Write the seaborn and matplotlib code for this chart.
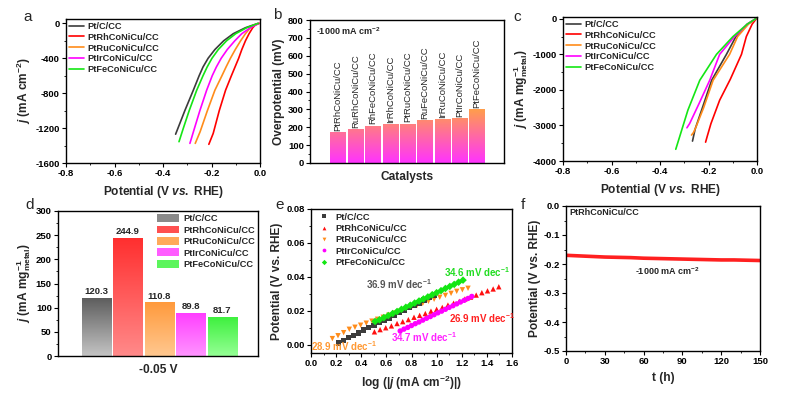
import numpy as np
import pandas as pd
import matplotlib
matplotlib.use("Agg")
import matplotlib.pyplot as plt
from matplotlib.colors import LinearSegmentedColormap
from matplotlib.patches import Patch
from matplotlib.ticker import MultipleLocator, FormatStrFormatter
import seaborn as sns

names = ["Pt/C/CC", "PtRhCoNiCu/CC", "PtRuCoNiCu/CC", "PtIrCoNiCu/CC", "PtFeCoNiCu/CC"]
line_colors = ["#3c3c3c", "#ff0000", "#ff8c1a", "#ff00ff", "#14e614"]

# (a) LSV, current per geometric area
a_ptc_v = [-0.008, -0.060, -0.110, -0.150, -0.186, -0.214, -0.235, -0.251, -0.275, -0.310, -0.348]
a_ptc_j = [0, -50, -118, -200, -300, -400, -500, -600, -766, -1000, -1270]
a_rh_v = [-0.003, -0.020, -0.030, -0.045, -0.060, -0.075, -0.088, -0.103, -0.118, -0.142, -0.168, -0.193, -0.211]
a_rh_j = [0, -20, -50, -118, -200, -300, -400, -500, -600, -766, -1000, -1261, -1386]
a_ru_v = [-0.004, -0.025, -0.040, -0.060, -0.080, -0.102, -0.122, -0.140, -0.157, -0.186, -0.217, -0.247, -0.267]
a_ru_j = [0, -20, -50, -118, -200, -300, -400, -500, -600, -766, -1000, -1242, -1375]
a_ir_v = [-0.005, -0.040, -0.075, -0.104, -0.135, -0.160, -0.180, -0.197, -0.220, -0.248, -0.270, -0.289]
a_ir_j = [0, -50, -118, -200, -300, -400, -500, -600, -766, -1000, -1200, -1375]
a_fe_v = [-0.007, -0.055, -0.100, -0.138, -0.172, -0.198, -0.218, -0.235, -0.261, -0.292, -0.316, -0.334]
a_fe_j = [0, -50, -118, -200, -300, -400, -500, -600, -766, -1000, -1200, -1356]

# (b) overpotential at -1000 mA cm-2
b_labels = ["PtRhCoNiCu/CC", "RuRhCoNiCu/CC", "RhFeCoNiCu/CC", "IrRhCoNiCu/CC", "PtRuCoNiCu/CC",
            "RuFeCoNiCu/CC", "IrRuCoNiCu/CC", "PtIrCoNiCu/CC", "PtFeCoNiCu/CC"]
b_eta = [171, 190, 208, 218, 220, 238, 246, 251, 301]

# (c) LSV, mass activity
c_ptc_v = [-0.005, -0.040, -0.087, -0.126, -0.187, -0.225, -0.255, -0.266]
c_ptc_j = [0, -150, -500, -1000, -1730, -2500, -3100, -3440]
c_rh_v = [-0.003, -0.020, -0.044, -0.064, -0.110, -0.154, -0.190, -0.205, -0.212]
c_rh_j = [0, -150, -500, -1000, -1700, -2290, -2950, -3300, -3470]
c_ru_v = [-0.004, -0.035, -0.080, -0.113, -0.181, -0.220, -0.252, -0.262, -0.270]
c_ru_j = [0, -150, -500, -1000, -1730, -2500, -3050, -3200, -3270]
c_ir_v = [-0.005, -0.040, -0.093, -0.154, -0.195, -0.240, -0.278, -0.289]
c_ir_j = [0, -150, -500, -1000, -1730, -2400, -2950, -3066]
c_fe_v = [-0.005, -0.040, -0.099, -0.167, -0.236, -0.285, -0.335]
c_fe_j = [0, -150, -500, -1000, -1730, -2570, -3670]

# (d) mass activity at -0.05 V
d_values = [120.3, 244.9, 110.8, 89.8, 81.7]
d_top = ["#5c5c5c", "#ff2e2e", "#ff9a3c", "#ff3cff", "#3cf03c"]
d_bottom = ["#c4c4c4", "#ff8a8a", "#ffc890", "#ff95ff", "#95ff95"]

# (e) Tafel plots
e_ptc_x = [0.22, 0.26, 0.30, 0.34, 0.38, 0.42, 0.46, 0.50, 0.54, 0.58, 0.62, 0.66, 0.70, 0.74,
           0.78, 0.82, 0.86, 0.90, 0.94, 0.98]
e_ptc_y = [0.0010, 0.0024, 0.0040, 0.0054, 0.0068, 0.0085, 0.0099, 0.0112, 0.0129, 0.0143, 0.0157,
           0.0174, 0.0188, 0.0201, 0.0218, 0.0232, 0.0246, 0.0263, 0.0277, 0.0290]
e_rh_x = [0.505, 0.55, 0.595, 0.64, 0.685, 0.73, 0.775, 0.82, 0.865, 0.91, 0.955, 1.00, 1.045, 1.09,
          1.135, 1.18, 1.225, 1.27, 1.315, 1.36, 1.405, 1.45, 1.495]
e_rh_y = [0.0075, 0.0088, 0.0099, 0.0110, 0.0124, 0.0135, 0.0147, 0.0161, 0.0172, 0.0183, 0.0197,
          0.0208, 0.0219, 0.0233, 0.0244, 0.0255, 0.0269, 0.0280, 0.0292, 0.0306, 0.0317, 0.0328, 0.0341]
e_ru_x = [0.17, 0.215, 0.26, 0.305, 0.35, 0.395, 0.44, 0.485, 0.53, 0.575, 0.62, 0.665, 0.71, 0.755,
          0.80, 0.845, 0.89, 0.935, 0.98, 1.025, 1.07, 1.115, 1.16, 1.205, 1.25]
e_ru_y = [0.0035, 0.0052, 0.0070, 0.0090, 0.0102, 0.0114, 0.0126, 0.0138, 0.0149, 0.0161, 0.0173,
          0.0185, 0.0196, 0.0208, 0.0220, 0.0232, 0.0243, 0.0255, 0.0267, 0.0279, 0.0290, 0.0302,
          0.0314, 0.0323, 0.0332]
e_ir_x = [0.71, 0.74, 0.77, 0.80, 0.83, 0.86, 0.89, 0.92, 0.95, 0.98, 1.01, 1.04, 1.07, 1.10, 1.13,
          1.16, 1.19, 1.22, 1.25, 1.28]
e_ir_y = [0.0080, 0.0091, 0.0101, 0.0112, 0.0123, 0.0133, 0.0144, 0.0155, 0.0165, 0.0176, 0.0187,
          0.0197, 0.0208, 0.0219, 0.0229, 0.0240, 0.0251, 0.0261, 0.0272, 0.0284]
e_fe_x = [0.51, 0.545, 0.58, 0.615, 0.65, 0.685, 0.72, 0.755, 0.79, 0.825, 0.86, 0.895, 0.93, 0.965,
          1.00, 1.035, 1.07, 1.105, 1.14, 1.175, 1.21]
e_fe_y = [0.0136, 0.0146, 0.0159, 0.0171, 0.0183, 0.0195, 0.0208, 0.0220, 0.0232, 0.0245, 0.0257,
          0.0269, 0.0281, 0.0294, 0.0306, 0.0318, 0.0331, 0.0343, 0.0355, 0.0368, 0.0380]
e_slopes = ["36.9", "26.9", "28.9", "34.7", "34.6"]
e_slope_pos = [(0.70, 0.0355), (1.36, 0.0158), (0.26, -0.0008), (0.90, 0.0042), (1.32, 0.0425)]
e_slope_colors = ["#555555", "#ff2020", "#ff9933", "#ff22ff", "#22dd22"]

# (f) stability
f_t = [0, 10, 20, 30, 40, 50, 60, 70, 80, 90, 100, 110, 120, 130, 140, 150]
f_e = [-0.170, -0.172, -0.174, -0.176, -0.177, -0.178, -0.180, -0.181, -0.182, -0.183,
       -0.184, -0.185, -0.186, -0.186, -0.187, -0.188]

sns.set_theme(style="ticks")
plt.rcParams["font.family"] = ["Liberation Sans", "DejaVu Sans"]
plt.rcParams.update({
    "font.weight": "bold",
    "axes.labelweight": "bold",
    "axes.unicode_minus": False,
    "mathtext.fontset": "custom",
    "mathtext.rm": "Liberation Sans:bold",
    "mathtext.it": "Liberation Sans:bold:italic",
    "mathtext.bf": "Liberation Sans:bold",
    "axes.linewidth": 1.0,
    "axes.edgecolor": "black",
    "xtick.color": "black",
    "ytick.color": "black",
})

TICK = 6.8
LAB = 8.6
LEG = 6.7


def style_axes(ax):
    for s in ax.spines.values():
        s.set_visible(True)
        s.set_linewidth(1.0)
    ax.tick_params(which="major", direction="out", length=3, width=0.8, labelsize=TICK, pad=1.5)
    ax.tick_params(which="minor", direction="out", length=1.6, width=0.6)
    ax.xaxis.label.set_size(LAB)
    ax.yaxis.label.set_size(LAB)


def gradient_fill(ax, patch, bottom, top, lo=None, hi=None):
    x0, y0 = patch.get_x(), patch.get_y()
    w, h = patch.get_width(), patch.get_height()
    lo = y0 if lo is None else lo
    hi = y0 + h if hi is None else hi
    cmap = LinearSegmentedColormap.from_list("g", [bottom, top])
    ramp = np.linspace(0, 1, 256).reshape(-1, 1)
    im = ax.imshow(ramp, cmap=cmap, aspect="auto", origin="lower",
                   extent=(x0, x0 + w, lo, hi), zorder=2, interpolation="bilinear")
    im.set_clip_path(patch)
    patch.set_facecolor("none")
    patch.set_edgecolor("none")


def lsv_frame(pairs):
    parts = []
    for name, v, j in pairs:
        parts.append(pd.DataFrame({"v": v, "j": j, "name": name}))
    return pd.concat(parts, ignore_index=True)


fig = plt.figure(figsize=(7.86, 3.93), dpi=100)
W, H = 786, 393


def axes_px(x0, y0, x1, y1):
    return fig.add_axes([x0 / W, 1 - y1 / H, (x1 - x0) / W, (y1 - y0) / H])


# ---- (a)
ax = axes_px(66, 19, 260, 163)
df_a = lsv_frame([(names[0], a_ptc_v, a_ptc_j), (names[1], a_rh_v, a_rh_j),
                  (names[2], a_ru_v, a_ru_j), (names[3], a_ir_v, a_ir_j),
                  (names[4], a_fe_v, a_fe_j)])
sns.lineplot(data=df_a, x="v", y="j", hue="name", hue_order=names, palette=line_colors,
             sort=False, estimator=None, lw=1.2, ax=ax)
ax.set_xlim(-0.8, 0.0)
ax.set_ylim(-1600, 50)
ax.xaxis.set_major_locator(MultipleLocator(0.2))
ax.xaxis.set_minor_locator(MultipleLocator(0.1))
ax.xaxis.set_major_formatter(FormatStrFormatter("%.1f"))
ax.yaxis.set_major_locator(MultipleLocator(400))
ax.yaxis.set_minor_locator(MultipleLocator(200))
ax.set_xlabel(r"Potential (V $vs.$ RHE)")
ax.set_ylabel(r"$j$ (mA cm$^{-2}$)", labelpad=2)
style_axes(ax)
sns.move_legend(ax, "upper left", title=None, frameon=False, fontsize=LEG, handlelength=1.6,
                handletextpad=0.4, labelspacing=0.2, borderaxespad=0.1, borderpad=0.2)

# ---- (b)
ax = axes_px(310, 20, 504, 163)
sns.barplot(x=b_labels, y=b_eta, color="#ff80c0", width=0.87, saturation=1, linewidth=0, ax=ax)
for p in ax.patches:
    gradient_fill(ax, p, "#ff33ff", "#ffa048", lo=0, hi=305)
for i, (lab, v) in enumerate(zip(b_labels, b_eta)):
    ax.text(i, v + 8, lab, rotation=90, ha="center", va="bottom", fontsize=6.8, fontweight="normal")
ax.set_xlim(-1.61, 9.55)
ax.set_ylim(0, 800)
ax.set_xticks([])
ax.yaxis.set_major_locator(MultipleLocator(100))
ax.yaxis.set_minor_locator(MultipleLocator(50))
ax.set_xlabel("Catalysts", labelpad=6)
ax.set_ylabel("Overpotential (mV)", labelpad=2)
ax.text(0.03, 0.965, r"-1000 mA cm$^{-2}$", transform=ax.transAxes, ha="left", va="top", fontsize=6.5)
style_axes(ax)

# ---- (c)
ax = axes_px(563, 17, 757, 161)
df_c = lsv_frame([(names[0], c_ptc_v, c_ptc_j), (names[1], c_rh_v, c_rh_j),
                  (names[2], c_ru_v, c_ru_j), (names[3], c_ir_v, c_ir_j),
                  (names[4], c_fe_v, c_fe_j)])
sns.lineplot(data=df_c, x="v", y="j", hue="name", hue_order=names, palette=line_colors,
             sort=False, estimator=None, lw=1.2, ax=ax)
ax.set_xlim(-0.8, 0.0)
ax.set_ylim(-4000, 50)
ax.xaxis.set_major_locator(MultipleLocator(0.2))
ax.xaxis.set_minor_locator(MultipleLocator(0.1))
ax.xaxis.set_major_formatter(FormatStrFormatter("%.1f"))
ax.yaxis.set_major_locator(MultipleLocator(1000))
ax.yaxis.set_minor_locator(MultipleLocator(500))
ax.set_xlabel(r"Potential (V $vs.$ RHE)")
ax.set_ylabel(r"$j$ (mA mg$^{-1}_{\mathrm{metal}}$)", labelpad=2)
style_axes(ax)
sns.move_legend(ax, "upper left", title=None, frameon=False, fontsize=LEG, handlelength=1.6,
                handletextpad=0.4, labelspacing=0.2, borderaxespad=0.1, borderpad=0.2)

# ---- (d)
ax = axes_px(58, 211, 258, 356)
sns.barplot(x=names, y=d_values, hue=names, palette=d_top, width=0.92, saturation=1,
            linewidth=0, legend=False, ax=ax)
bars = [p for p in ax.patches if p.get_height() > 0]
for p, top, bot in zip(bars, d_top, d_bottom):
    gradient_fill(ax, p, bot, top)
for i, v in enumerate(d_values):
    ax.text(i, v + 3, f"{v}", ha="center", va="bottom", fontsize=6.8)
ax.set_xlim(-1.21, 5.13)
ax.set_ylim(0, 300)
ax.set_xticks([])
ax.yaxis.set_major_locator(MultipleLocator(50))
ax.yaxis.set_minor_locator(MultipleLocator(25))
ax.set_xlabel("-0.05 V", labelpad=6)
ax.set_ylabel(r"$j$ (mA mg$^{-1}_{\mathrm{metal}}$)", labelpad=2)
style_axes(ax)
handles = [Patch(facecolor=c, edgecolor="none") for c in ["#8a8a8a", "#ff5050", "#ffaa5a", "#ff5cff", "#5cf55c"]]
ax.legend(handles, names, loc="upper right", frameon=False, fontsize=LEG, handlelength=2.4,
          handleheight=0.9, handletextpad=0.4, labelspacing=0.25, borderaxespad=0.15, borderpad=0.2)

# ---- (e)
ax = axes_px(311, 209, 512, 353)
df_e = pd.concat([
    pd.DataFrame({"x": e_ru_x, "y": e_ru_y, "name": names[2]}),
    pd.DataFrame({"x": e_rh_x, "y": e_rh_y, "name": names[1]}),
    pd.DataFrame({"x": e_ptc_x, "y": e_ptc_y, "name": names[0]}),
    pd.DataFrame({"x": e_ir_x, "y": e_ir_y, "name": names[3]}),
    pd.DataFrame({"x": e_fe_x, "y": e_fe_y, "name": names[4]}),
], ignore_index=True)
marker_map = dict(zip(names, ["s", "^", "v", "o", "D"]))
e_colors = ["#3c3c3c", "#ff1010", "#ff8c1a", "#ff00ff", "#14e614"]
sns.scatterplot(data=df_e, x="x", y="y", hue="name", style="name", hue_order=names,
                style_order=names, markers=marker_map, palette=e_colors, s=15, linewidth=0, ax=ax)
for txt, (x, y), c in zip(e_slopes, e_slope_pos, e_slope_colors):
    ax.text(x, y, txt + r" mV dec$^{-1}$", color=c, ha="center", va="center", fontsize=7)
ax.set_xlim(0, 1.6)
ax.set_ylim(-0.005, 0.08)
ax.xaxis.set_major_locator(MultipleLocator(0.2))
ax.xaxis.set_minor_locator(MultipleLocator(0.1))
ax.xaxis.set_major_formatter(FormatStrFormatter("%.1f"))
ax.yaxis.set_major_locator(MultipleLocator(0.02))
ax.yaxis.set_minor_locator(MultipleLocator(0.01))
ax.yaxis.set_major_formatter(FormatStrFormatter("%.2f"))
ax.set_xlabel(r"log (|$j$ (mA cm$^{-2}$)|)")
ax.set_ylabel("Potential (V vs. RHE)", labelpad=2)
style_axes(ax)
sns.move_legend(ax, "upper left", title=None, frameon=False, fontsize=LEG, markerscale=0.7,
                handletextpad=0.2, labelspacing=0.25, borderaxespad=0.1, borderpad=0.3)

# ---- (f)
ax = axes_px(566, 206, 760, 351)
sns.lineplot(x=f_t, y=f_e, color="#ff2020", lw=2.6, ax=ax)
ax.set_xlim(0, 150)
ax.set_ylim(-0.5, 0.0)
ax.xaxis.set_major_locator(MultipleLocator(30))
ax.xaxis.set_minor_locator(MultipleLocator(15))
ax.yaxis.set_major_locator(MultipleLocator(0.1))
ax.yaxis.set_minor_locator(MultipleLocator(0.05))
ax.yaxis.set_major_formatter(FormatStrFormatter("%.1f"))
ax.set_xlabel("t (h)")
ax.set_ylabel("Potential (V vs. RHE)", labelpad=2)
ax.text(0.015, 0.985, "PtRhCoNiCu/CC", transform=ax.transAxes, ha="left", va="top", fontsize=6.5)
ax.text(78, -0.226, r"-1000 mA cm$^{-2}$", ha="center", va="center", fontsize=6.5)
style_axes(ax)

for letter, (px, py) in zip("abcdef", [(28, 17), (277, 15), (517, 17), (30, 205), (280, 205), (523, 205)]):
    fig.text(px / W, 1 - py / H, letter, fontsize=11, fontweight="normal", ha="center", va="center")

fig.savefig("out.png", dpi=100)
